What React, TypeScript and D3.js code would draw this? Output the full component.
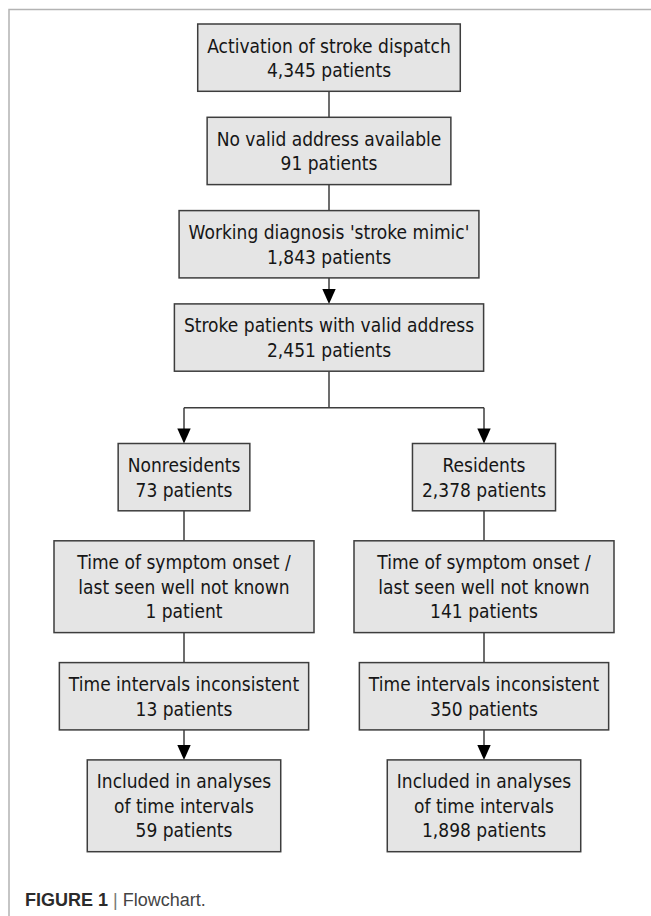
import React, { useRef, useEffect } from "react";
import * as d3 from "d3";

// flow data
const mainSteps = [
    "Activation of stroke dispatch",
    "No valid address available",
    "Working diagnosis 'stroke mimic'",
    "Stroke patients with valid address",
];
const mainCounts = [4345, 91, 1843, 2451];
const mainArrows = [false, false, true];

const groups = ["Nonresidents", "Residents"];
const groupCounts = [73, 2378];

const branchSteps = [
    ["Time of symptom onset /", "last seen well not known"],
    ["Time intervals inconsistent"],
    ["Included in analyses", "of time intervals"],
];
const nonresidentCounts = [1, 13, 59];
const residentCounts = [141, 350, 1898];
const branchArrows = [false, false, true];

const captionLabel = "FIGURE 1";
const captionText = "Flowchart.";

// layout / style
const W = 651,
    H = 916;
const FONT = "'DejaVu Sans', Verdana, sans-serif";
const FS = 19;
const SQUEEZE = 0.9;
const LINE_H = 24.5;
const PAD_X = 9.5;
const PAD_Y = 18.3;
const MAIN_GAP = 26;
const SPLIT_GAP = 72.3;
const SPLIT_DROP = 36.6;
const BRANCH_GAP = 30;
const TOP = 24;
const MIN_W_FIRST_BRANCH = 260;
const ARROW_W = 13.4,
    ARROW_H = 15;
const BOX_FILL = "#e5e5e5";
const INK = "#3d3d3d";

export default function App() {
    const svgRef = useRef(null);

    useEffect(() => {
        const svg = d3.select(svgRef.current);
        svg.selectAll("*").remove();

        const fmt = d3.format(",");
        const label = (n) => `${fmt(n)} ${n === 1 ? "patient" : "patients"}`;
        const colX = d3
            .scaleOrdinal()
            .domain(["left", "main", "right"])
            .range([184, 329, 484]);
        const boxH = (n) => PAD_Y + LINE_H * n;

        // frame
        svg.append("path")
            .attr("d", `M9,${H} V9.5 H${W}`)
            .attr("fill", "none")
            .attr("stroke", "#b3b3b3")
            .attr("stroke-width", 1.5);

        // build nodes
        const nodes = [];
        let y = TOP;
        mainSteps.forEach((s, i) => {
            const lines = [s, label(mainCounts[i])];
            nodes.push({ col: "main", lines, y, h: boxH(lines.length), arrow: i > 0 && mainArrows[i - 1] });
            y += boxH(lines.length) + MAIN_GAP;
        });
        const splitTop = nodes[nodes.length - 1];
        const splitY = splitTop.y + splitTop.h + SPLIT_DROP;
        const branchStart = splitTop.y + splitTop.h + SPLIT_GAP;

        ["left", "right"].forEach((col, gi) => {
            const counts = gi === 0 ? nonresidentCounts : residentCounts;
            let by = branchStart;
            const gl = [groups[gi], label(groupCounts[gi])];
            nodes.push({ col, lines: gl, y: by, h: boxH(2), arrow: true });
            by += boxH(2) + BRANCH_GAP;
            branchSteps.forEach((s, i) => {
                const lines = [...s, label(counts[i])];
                nodes.push({
                    col,
                    lines,
                    y: by,
                    h: boxH(lines.length),
                    arrow: branchArrows[i],
                    minW: i === 0 ? MIN_W_FIRST_BRANCH : 0,
                });
                by += boxH(lines.length) + BRANCH_GAP;
            });
        });

        // links
        const links = svg.append("g");
        const arrowHead = (x, yTip) =>
            links
                .append("path")
                .attr("d", `M${x - ARROW_W / 2},${yTip - ARROW_H} L${x + ARROW_W / 2},${yTip - ARROW_H} L${x},${yTip} Z`)
                .attr("fill", "#000");
        const vline = (x, y1, y2) =>
            links
                .append("line")
                .attr("x1", x)
                .attr("x2", x)
                .attr("y1", y1)
                .attr("y2", y2)
                .attr("stroke", INK)
                .attr("stroke-width", 1.5);

        for (let i = 1; i < mainSteps.length; i++) {
            const a = nodes[i - 1],
                b = nodes[i];
            const x = colX("main");
            vline(x, a.y + a.h, b.arrow ? b.y - ARROW_H + 1 : b.y);
            if (b.arrow) arrowHead(x, b.y);
        }
        // split
        vline(colX("main"), splitTop.y + splitTop.h, splitY);
        links
            .append("line")
            .attr("x1", colX("left"))
            .attr("x2", colX("right"))
            .attr("y1", splitY)
            .attr("y2", splitY)
            .attr("stroke", INK)
            .attr("stroke-width", 1.5);
        ["left", "right"].forEach((col) => {
            const colNodes = nodes.filter((n) => n.col === col);
            colNodes.forEach((b, i) => {
                const x = colX(col);
                const y1 = i === 0 ? splitY : colNodes[i - 1].y + colNodes[i - 1].h;
                vline(x, y1, b.arrow ? b.y - ARROW_H + 1 : b.y);
                if (b.arrow) arrowHead(x, b.y);
            });
        });

        // boxes
        nodes.forEach((n) => {
            const cx = colX(n.col);
            const g = svg.append("g");
            const rect = g
                .append("rect")
                .attr("fill", BOX_FILL)
                .attr("stroke", INK)
                .attr("stroke-width", 1.5)
                .attr("y", n.y)
                .attr("height", n.h);
            const tg = g.append("g").attr("transform", `translate(${cx},0) scale(${SQUEEZE},1)`);
            const mid = n.y + n.h / 2;
            let maxW = 0;
            n.lines.forEach((t, i) => {
                const el = tg
                    .append("text")
                    .attr("x", 0)
                    .attr("y", mid + (i - (n.lines.length - 1) / 2) * LINE_H + 7.2)
                    .attr("text-anchor", "middle")
                    .attr("font-family", FONT)
                    .attr("font-size", FS)
                    .attr("fill", "#161616")
                    .text(t);
                maxW = Math.max(maxW, el.node().getComputedTextLength() * SQUEEZE);
            });
            const w = Math.max(maxW + 2 * PAD_X, n.minW || 0);
            rect.attr("x", cx - w / 2).attr("width", w);
        });

        // caption
        const cap = svg
            .append("text")
            .attr("x", 25)
            .attr("y", 906)
            .attr("font-family", "'Liberation Sans', Arial, sans-serif")
            .attr("font-size", 18);
        cap.append("tspan").attr("font-weight", "bold").attr("fill", "#2b2b2b").text(captionLabel);
        cap.append("tspan").attr("fill", "#777").text(" | ");
        cap.append("tspan").attr("fill", "#444").text(captionText);
    }, []);

    return (
        <svg
            ref={svgRef}
            width={W}
            height={H}
            style={{ position: "absolute", left: 0, top: 0, background: "#fff" }}
        ></svg>
    );
}
